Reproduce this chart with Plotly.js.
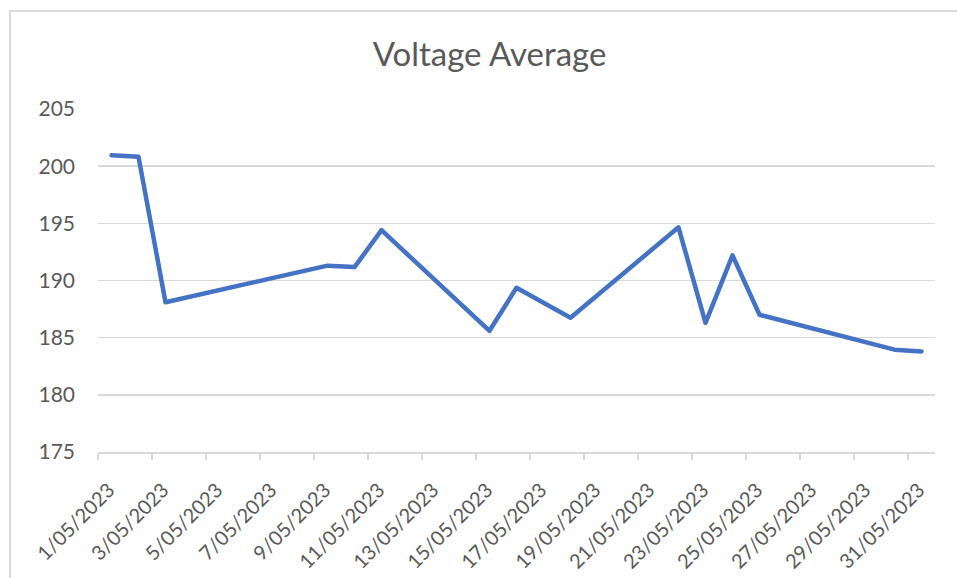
<!DOCTYPE html>
<html><head><meta charset="utf-8">
<script src="https://cdn.plot.ly/plotly-3.0.1.min.js"></script>
<style>
html,body{margin:0;padding:0;background:#fff;overflow:hidden}
#chart{width:957px;height:578px}
#frame{position:absolute;left:9px;top:10px;right:-5px;bottom:-5px;border-left:2px solid #dadada;border-top:2px solid #dadada;pointer-events:none}
</style></head><body>
<div id="chart"></div><div id="frame"></div>
<script>
const dates = ["2023-05-01","2023-05-02","2023-05-03","2023-05-09","2023-05-10","2023-05-11","2023-05-15","2023-05-16","2023-05-18","2023-05-22","2023-05-23","2023-05-24","2023-05-25","2023-05-30","2023-05-31"];
const voltage = [200.96,200.82,188.1,191.3,191.17,194.4,185.6,189.36,186.75,194.65,186.3,192.2,187.0,183.95,183.8];
const xTickDates = ["2023-05-01","2023-05-03","2023-05-05","2023-05-07","2023-05-09","2023-05-11","2023-05-13","2023-05-15","2023-05-17","2023-05-19","2023-05-21","2023-05-23","2023-05-25","2023-05-27","2023-05-29","2023-05-31"];
const xTickLabels = ["1/05/2023","3/05/2023","5/05/2023","7/05/2023","9/05/2023","11/05/2023","13/05/2023","15/05/2023","17/05/2023","19/05/2023","21/05/2023","23/05/2023","25/05/2023","27/05/2023","29/05/2023","31/05/2023"];
const yTicks = [175,180,185,190,195,200,205];

const font = "Lato, 'Open Sans', sans-serif";
const grey = "#595959";

const trace = {
  x: dates.map(d => d + " 12:00"),
  y: voltage,
  type: "scatter",
  mode: "lines",
  line: {color: "#4472C4", width: 4.5, shape: "linear"},
  hoverinfo: "x+y"
};

const layout = {
  width: 957, height: 578,
  margin: {l: 98, r: 22, t: 109, b: 126},
  paper_bgcolor: "#fff", plot_bgcolor: "#fff",
  showlegend: false,
  font: {family: font, color: grey, size: 21},
  title: {text: "Voltage Average", font: {family: font, size: 33, color: grey},
          xref: "container", x: 489.5/957, xanchor: "center",
          yref: "container", y: 1 - 54/578, yanchor: "middle"},
  xaxis: {
    type: "date",
    range: ["2023-05-01", "2023-06-01"],
    tickvals: xTickDates, ticktext: xTickLabels,
    tickangle: -45,
    ticks: "outside", ticklen: 6, tickwidth: 1.5, tickcolor: "#d9d9d9",
    ticklabelstandoff: 11, ticklabelshift: 11,
    showline: true, linecolor: "#d9d9d9", linewidth: 1.5,
    showgrid: false, zeroline: false,
    tickfont: {family: font, size: 20, color: grey}
  },
  yaxis: {
    range: [175, 205],
    tickvals: yTicks,
    showgrid: true, gridcolor: "#d9d9d9", gridwidth: 1.5,
    zeroline: false, showline: false, ticks: "",
    ticklabelstandoff: 22,
    tickfont: {family: font, size: 21, color: grey}
  }
};

Plotly.newPlot("chart", [trace], layout, {displayModeBar: false, staticPlot: true}).then(() => {
  document.querySelectorAll("#chart .scatterlayer path.js-line").forEach(p => {
    p.style.strokeLinejoin = "round"; p.style.strokeLinecap = "round";
  });
});
</script>
</body></html>
